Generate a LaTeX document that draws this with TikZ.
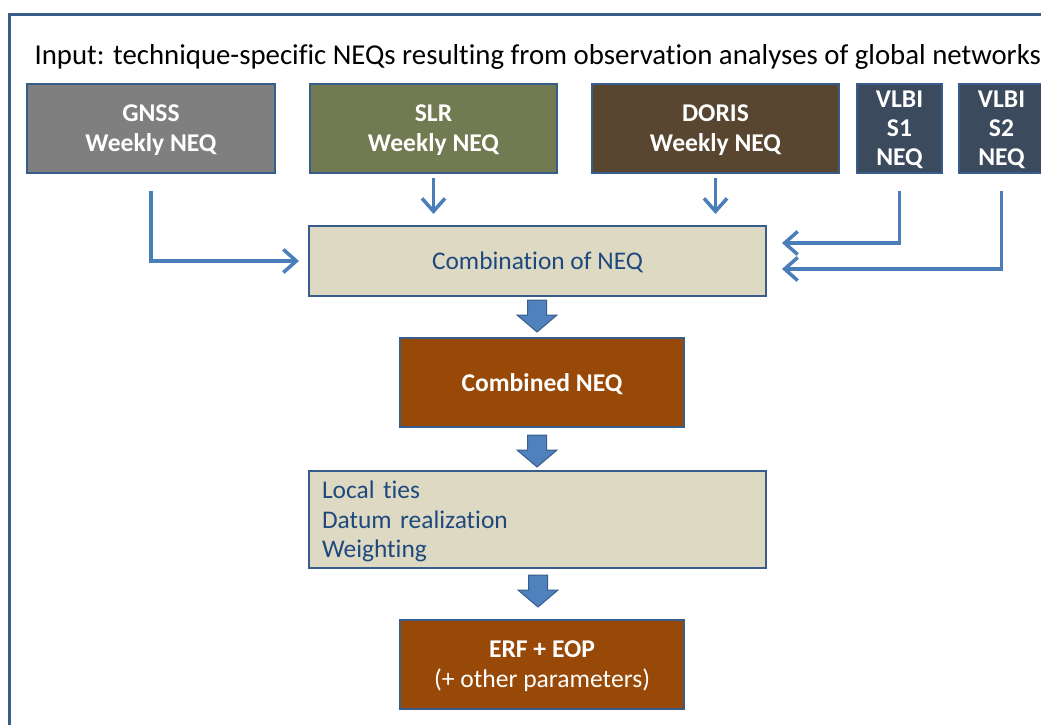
\documentclass[tikz,border=0pt]{standalone}
\usepackage{fontspec}
\setmainfont{Carlito}[Ligatures={NoCommon,NoContextual},Contextuals=NoAlternate]
\usetikzlibrary{arrows.meta}

\definecolor{frameblue}{HTML}{385D8A}
\definecolor{linkblue}{HTML}{4A7EBB}
\definecolor{blockblue}{HTML}{4F81BD}
\definecolor{textblue}{HTML}{1F497D}
\definecolor{gnssgray}{HTML}{7F7F7F}
\definecolor{slrgreen}{HTML}{717A50}
\definecolor{dorisbrown}{HTML}{584630}
\definecolor{vlbislate}{HTML}{3B4A5D}
\definecolor{tanfill}{HTML}{DDD9C3}
\definecolor{rustfill}{HTML}{984807}

\begin{document}
\begin{tikzpicture}[x=1pt,y=-1pt,
  techbox/.style={draw=frameblue,line width=2pt,inner sep=0pt,align=center,text depth=0pt,
    text=white,font=\bfseries\fontsize{25.6}{30}\selectfont},
  procbox/.style={draw=frameblue,line width=2pt,fill=tanfill,inner sep=0pt,
    text=textblue,font=\fontsize{25.4}{29.5}\selectfont},
  resbox/.style={techbox,fill=rustfill,minimum width=284pt,minimum height=89pt},
  link/.style={draw=linkblue,line width=3.5pt,-{Straight Barb[length=13pt,width=23pt]}},
  blockarr/.style={draw=frameblue,line width=1pt,fill=blockblue}]
\useasboundingbox (0,0) rectangle (1041,724);
\clip (0,0) rectangle (1041,724);
\draw[frameblue,line width=3pt] (9,14) rectangle (1100,800);

\node[anchor=base west,font=\fontsize{28.8}{34}\selectfont] (title) at (31,64)
  {Input: technique-specific NEQs resulting from observation analyses of global networks};

% input NEQs
\node[techbox,fill=gnssgray,minimum width=248pt,minimum height=89pt] (gnss) at (151,128.5) {GNSS\\Weekly NEQ};
\node[techbox,fill=slrgreen,minimum width=247pt,minimum height=89pt] (slr) at (433.5,128.5) {SLR\\Weekly NEQ};
\node[techbox,fill=dorisbrown,minimum width=247pt,minimum height=89pt] (doris) at (715.5,128.5) {DORIS\\Weekly NEQ};
\node[techbox,fill=vlbislate,minimum width=85pt,minimum height=89pt,
  font=\bfseries\fontsize{25.6}{29}\selectfont] (vlbi1) at (899.5,128.5) {VLBI\\S1\\NEQ};
\node[techbox,fill=vlbislate,minimum width=85pt,minimum height=89pt,
  font=\bfseries\fontsize{25.6}{29}\selectfont] (vlbi2) at (1001.5,128.5) {VLBI\\S2\\NEQ};

% processing chain
\node[procbox,minimum width=457pt,minimum height=70pt,text depth=0pt] (comb) at (537.5,261) {Combination of NEQ};
\node[resbox] (cneq) at (542,382.5) {Combined NEQ};
\node[procbox,minimum height=97pt,text width=431pt,align=left,inner xsep=13pt,text height=22pt] (ties) at (537.5,519.5)
  {Local ties\\Datum realization\\Weighting};
\node[resbox] (erf) at (542,664) {ERF + EOP\\\mdseries (+ other parameters)};

\draw[link] ([yshift=-17pt]gnss.south) |- ([xshift=-9pt]comb.west);
\draw[link] ([yshift=-4pt]slr.south) -- ([yshift=11pt]slr.south |- comb.north);
\draw[link] ([yshift=-4pt]doris.south) -- ([yshift=11pt]doris.south |- comb.north);
\draw[link] ([yshift=-17pt]vlbi1.south) |- ([shift={(15pt,18pt)}]comb.east);
\draw[link] ([yshift=-17pt]vlbi2.south) |- ([shift={(15pt,-8pt)}]comb.east);

% block arrows
\foreach \x/\y in {537/300,537/435,538/575}
  \draw[blockarr] (\x-9.5,\y) -- (\x+9.5,\y) -- (\x+9.5,\y+15) -- (\x+20,\y+15)
    -- (\x,\y+32) -- (\x-20,\y+15) -- (\x-9.5,\y+15) -- cycle;
\end{tikzpicture}
\end{document}
